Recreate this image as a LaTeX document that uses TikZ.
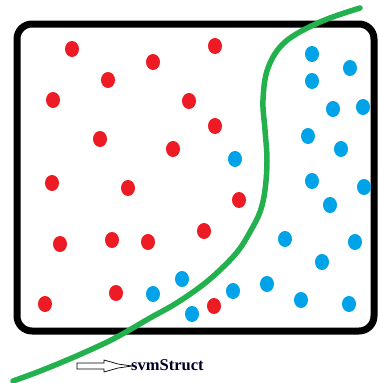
\documentclass[tikz,border=0pt]{standalone}
\usepackage{fontspec}
\setmainfont{Liberation Serif}
\definecolor{pred}{HTML}{ED1C24}
\definecolor{pblue}{HTML}{00A2E8}
\definecolor{pgreen}{HTML}{22B14C}
\begin{document}
\begin{tikzpicture}[x=1pt,y=-1pt,
  reddot/.style={fill=pred},
  bluedot/.style={fill=pblue}]
\useasboundingbox (0,0) rectangle (378,383);
% frame
\draw[line width=7pt,rounded corners=15pt] (17,24) rectangle (374,331);
% red dots
\foreach \p in {(72,49),(153,62),(215,46),(108,80),(53,100),(189,101),(215,126),(100,139),(173,149),(52,183),(128,188),(239,200),(60,244),(112,240),(148,242),(204,231),(45,304),(116,293),(214,306)}
  \fill[reddot] \p ellipse [x radius=7, y radius=8];
% blue dots
\foreach \p in {(312,54),(350,68),(312,81),(333,109),(363,107),(308,136),(341,149),(235,159),(312,181),(364,187),(330,205),(285,239),(355,242),(322,262),(182,279),(153,294),(233,291),(267,284),(301,300),(349,304),(192,314)}
  \fill[bluedot] \p ellipse [x radius=7, y radius=8];
% green boundary
\draw[pgreen,line width=5.5pt,line cap=round] plot[smooth,tension=0.6] coordinates {(360,8) (320,22) (285,42) (268,68) (263,100) (265,130) (267,160) (265,190) (260,212) (250,232) (238,251) (220,270) (200,287) (175,304) (150,318) (117,337) (90,350) (60,363) (35,373) (13,381)};
% arrow
\draw[line width=0.7pt] (77,363) -- (104,363) -- (104,360) -- (118,364) -- (132,366) -- (118,368) -- (104,372) -- (104,369) -- (77,369) -- cycle;
\node[anchor=base west,inner sep=0pt,font=\fontsize{16.5}{16.5}\selectfont\bfseries,text=black!85!blue] (lbl) at (131,370) {svmStruct};
\end{tikzpicture}
\end{document}
